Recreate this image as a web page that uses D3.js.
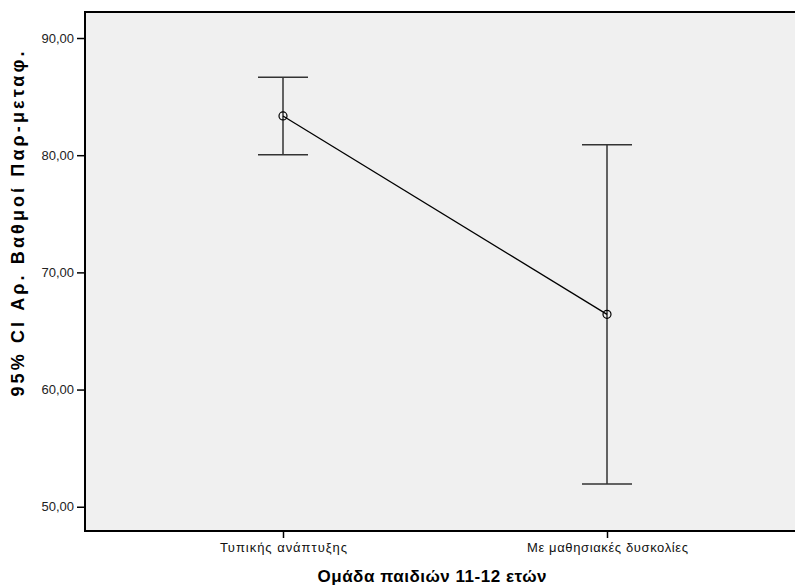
<!DOCTYPE html>
<html><head><meta charset="utf-8">
<script src="https://cdn.jsdelivr.net/npm/d3@7"></script>
<style>body{margin:0;background:#fff}svg{display:block}</style>
</head><body>
<svg id="c" width="795" height="586"></svg>
<script>
const categories = ["Τυπικής ανάπτυξης", "Με μαθησιακές δυσκολίες"];
const means = [83.35, 66.42];
const lowerCI = [80.04, 51.95];
const upperCI = [86.65, 80.90];
const yTicks = [50, 60, 70, 80, 90];
const yTickLabels = ["50,00", "60,00", "70,00", "80,00", "90,00"];
const yTitle = "95% CI Αρ. Βαθμοί Παρ-μεταφ.";
const xTitle = "Ομάδα παιδιών 11-12 ετών";

const FONT = "Arial, 'Liberation Sans', sans-serif";
const svg = d3.select("#c");
const L = 85, T = 12, R = 797, B = 531;
const y = d3.scaleLinear().domain([47.93, 92.22]).range([B, T]);
const x = d3.scalePoint().domain(categories).range([283, 607]);

svg.append("rect").attr("x", L).attr("y", T).attr("width", R - L).attr("height", B - T)
  .attr("fill", "#f0f0f0");

// y axis
const ya = svg.append("g").attr("transform", `translate(${L},0)`)
  .call(d3.axisLeft(y).tickValues(yTicks).tickSize(8).tickFormat((d, i) => yTickLabels[i]));
ya.select(".domain").remove();
ya.selectAll(".tick line").attr("stroke", "#000").attr("stroke-width", 1.5);
ya.selectAll(".tick text").attr("font-family", FONT)
  .attr("font-size", 13).attr("fill", "#222").attr("x", -11);

// x axis
const xLabelLen = [127, 161];
const xa = svg.append("g").attr("transform", `translate(0,${B})`)
  .call(d3.axisBottom(x).tickSize(7));
xa.select(".domain").remove();
xa.selectAll(".tick line").attr("stroke", "#000").attr("stroke-width", 1.5);
xa.selectAll(".tick text").attr("font-family", FONT)
  .attr("font-size", 13).attr("fill", "#111").attr("y", 12)
  .attr("textLength", (d, i) => xLabelLen[i]).attr("lengthAdjust", "spacing");

// frame
svg.append("path").attr("d", `M${R},${T}H${L}V${B}H${R}`)
  .attr("fill", "none").attr("stroke", "#000").attr("stroke-width", 2);

// error bars
const g = svg.append("g");
categories.forEach((c, i) => {
  const cx = x(c);
  g.append("line").attr("x1", cx).attr("x2", cx).attr("y1", y(upperCI[i])).attr("y2", y(lowerCI[i]))
    .attr("stroke", "#333").attr("stroke-width", 1.5);
  [upperCI[i], lowerCI[i]].forEach(v => {
    g.append("line").attr("x1", cx - 25).attr("x2", cx + 25).attr("y1", y(v)).attr("y2", y(v))
      .attr("stroke", "#333").attr("stroke-width", 1.5);
  });
});

// mean line
const line = d3.line().x((d, i) => x(categories[i])).y(d => y(d));
svg.append("path").datum(means).attr("d", line).attr("fill", "none")
  .attr("stroke", "#000").attr("stroke-width", 1.3);
svg.selectAll("circle.m").data(means).enter().append("circle")
  .attr("cx", (d, i) => x(categories[i])).attr("cy", d => y(d)).attr("r", 4)
  .attr("fill", "none").attr("stroke", "#000").attr("stroke-width", 1.2);

// titles
svg.append("text").attr("x", 432).attr("y", 582).attr("text-anchor", "middle")
  .attr("font-family", FONT).attr("font-weight", "bold")
  .attr("font-size", 17).attr("fill", "#000")
  .attr("textLength", 229).attr("lengthAdjust", "spacing").text(xTitle);
svg.append("text").attr("transform", "translate(24,224) rotate(-90)").attr("text-anchor", "middle")
  .attr("font-family", FONT).attr("font-weight", "bold")
  .attr("font-size", 18).attr("fill", "#000")
  .attr("textLength", 345).attr("lengthAdjust", "spacing").text(yTitle);
</script>
</body></html>
